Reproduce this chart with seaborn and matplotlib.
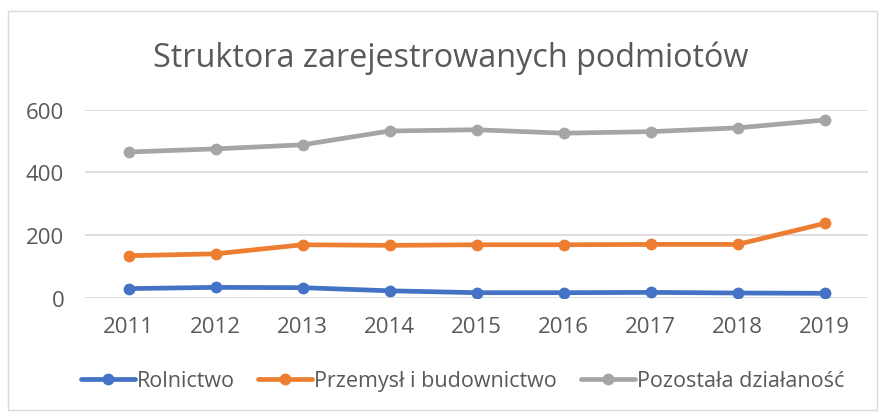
import pandas as pd
import matplotlib.pyplot as plt
import seaborn as sns
from matplotlib.patches import Rectangle

# Dane
lata = [2011, 2012, 2013, 2014, 2015, 2016, 2017, 2018, 2019]
rolnictwo = [29, 33, 32, 22, 16, 16, 17, 15, 14]
przemysl = [134, 140, 169, 167, 169, 169, 170, 170, 237]
pozostala = [465, 475, 488, 532, 536, 525, 530, 542, 567]
nazwy = ["Rolnictwo", "Przemysł i budownictwo", "Pozostała działaność"]
kolory = ["#4472C4", "#ED7D31", "#A5A5A5"]

df = pd.DataFrame({
    "rok": lata * 3,
    "wartosc": rolnictwo + przemysl + pozostala,
    "kategoria": [n for n in nazwy for _ in lata],
})

sns.set_style("white")
plt.rcParams["font.family"] = ["Open Sans", "DejaVu Sans"]
tekst = "#595959"

fig = plt.figure(figsize=(8.81, 4.14), dpi=100)
ax = fig.add_axes([85 / 881, 1 - 298.7 / 414, (868 - 85) / 881, (298.7 - 110.7) / 414])

sns.lineplot(data=df, x="rok", y="wartosc", hue="kategoria", hue_order=nazwy,
             palette=kolory, marker="o", markersize=8.5, markeredgewidth=0,
             linewidth=3.4, ax=ax, legend=True)

ax.set_xlim(2010.5, 2019.5)
ax.set_ylim(0, 600)
ax.set_xticks(lata)
ax.set_yticks([0, 200, 400, 600])
ax.yaxis.grid(True, color="#D9D9D9", linewidth=1.2)
ax.set_axisbelow(True)
for s in ax.spines.values():
    s.set_visible(False)
ax.tick_params(axis="both", length=0, labelsize=16, labelcolor=tekst)
ax.tick_params(axis="y", pad=15)
ax.tick_params(axis="x", pad=13)
ax.set_xlabel("")
ax.set_ylabel("")

uchwyty, etykiety = ax.get_legend_handles_labels()
ax.get_legend().remove()
fig.legend(uchwyty, etykiety, loc="center", bbox_to_anchor=(0.525, 1 - 382 / 414),
           ncol=3, frameon=False, fontsize=15.5, labelcolor=tekst,
           handlelength=2.5, handletextpad=0.1, columnspacing=1.1)

fig.text(0.512, 1 - 58 / 414, "Struktora zarejestrowanych podmiotów",
         ha="center", va="center", fontsize=23.3, color=tekst)

fig.patches.append(Rectangle((8 / 881, 1 - 411 / 414), 869 / 881, 399 / 414,
                             transform=fig.transFigure, fill=False,
                             edgecolor="#D9D9D9", linewidth=1))

fig.savefig("out.png", dpi=100)
